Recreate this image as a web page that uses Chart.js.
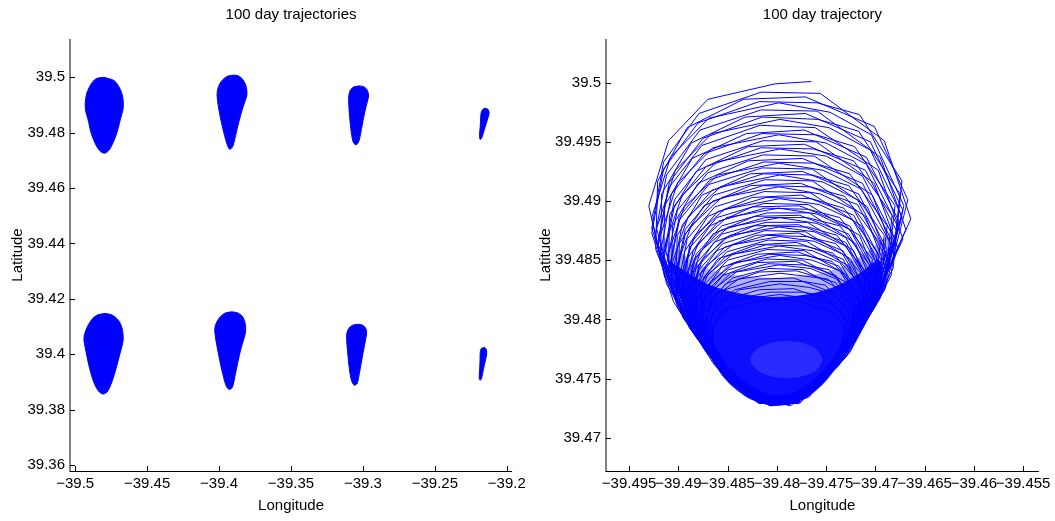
<!DOCTYPE html>
<html>
<head>
<meta charset="utf-8">
<script src="https://cdn.jsdelivr.net/npm/chart.js@4.4.0/dist/chart.umd.min.js"></script>
<style>
  html, body { margin: 0; padding: 0; background: #fff; }
  #wrap { position: relative; width: 1055px; height: 521px; overflow: hidden; }
  canvas { position: absolute; top: 0; }
</style>
</head>
<body>
<div id="wrap">
  <canvas id="leftChart" width="530" height="521" style="left:0"></canvas>
  <canvas id="rightChart" width="525" height="521" style="left:530px"></canvas>
</div>
<script>
// ============ Data ============
const leftTitle = '100 day trajectories';
const rightTitle = '100 day trajectory';

const leftLonTicks = [-39.5, -39.45, -39.4, -39.35, -39.3, -39.25, -39.2];
const leftLatTicks = [39.36, 39.38, 39.4, 39.42, 39.44, 39.46, 39.48, 39.5];
const rightLonTicks = [-39.495, -39.49, -39.485, -39.48, -39.475, -39.47, -39.465, -39.46, -39.455];
const rightLatTicks = [39.47, 39.475, 39.48, 39.485, 39.49, 39.495, 39.5];

// outline of each trajectory cluster in the left panel (lon, lat)
const blob1 = [[-39.4800,39.5000],[-39.4855,39.4995],[-39.4890,39.4975],[-39.4918,39.4945],[-39.4930,39.4910],[-39.4928,39.4880],[-39.4912,39.4850],[-39.4890,39.4800],[-39.4860,39.4760],[-39.4830,39.4735],[-39.4797,39.4726],[-39.4768,39.4735],[-39.4740,39.4760],[-39.4710,39.4800],[-39.4685,39.4850],[-39.4666,39.4890],[-39.4670,39.4930],[-39.4690,39.4960],[-39.4730,39.4988]];
const blob2 = [[-39.3900,39.5008],[-39.3945,39.5003],[-39.3985,39.4985],[-39.4008,39.4960],[-39.4014,39.4936],[-39.4005,39.4895],[-39.3985,39.4840],[-39.3962,39.4790],[-39.3940,39.4752],[-39.3925,39.4740],[-39.3905,39.4750],[-39.3885,39.4790],[-39.3862,39.4840],[-39.3835,39.4890],[-39.3812,39.4925],[-39.3806,39.4940],[-39.3812,39.4968],[-39.3835,39.4992],[-39.3865,39.5005]];
const blob3 = [[-39.3030,39.4969],[-39.3065,39.4965],[-39.3088,39.4953],[-39.3098,39.4935],[-39.3099,39.4910],[-39.3093,39.4860],[-39.3083,39.4810],[-39.3070,39.4770],[-39.3052,39.4756],[-39.3032,39.4764],[-39.3015,39.4800],[-39.2997,39.4850],[-39.2978,39.4895],[-39.2963,39.4925],[-39.2962,39.4940],[-39.2975,39.4958],[-39.3000,39.4967]];
const blob4 = [[-39.2150,39.4888],[-39.2165,39.4885],[-39.2178,39.4872],[-39.2182,39.4850],[-39.2185,39.4820],[-39.2190,39.4790],[-39.2186,39.4776],[-39.2175,39.4780],[-39.2160,39.4805],[-39.2145,39.4830],[-39.2130,39.4855],[-39.2123,39.4870],[-39.2130,39.4884]];
const blob5 = [[-39.4790,39.4147],[-39.4840,39.4143],[-39.4880,39.4128],[-39.4915,39.4100],[-39.4936,39.4070],[-39.4939,39.4050],[-39.4925,39.4010],[-39.4905,39.3960],[-39.4875,39.3905],[-39.4840,39.3868],[-39.4805,39.3856],[-39.4775,39.3866],[-39.4745,39.3900],[-39.4715,39.3950],[-39.4690,39.4000],[-39.4670,39.4040],[-39.4666,39.4060],[-39.4675,39.4095],[-39.4700,39.4123],[-39.4745,39.4142]];
const blob6 = [[-39.3915,39.4153],[-39.3960,39.4148],[-39.4000,39.4130],[-39.4025,39.4105],[-39.4030,39.4085],[-39.4020,39.4045],[-39.3998,39.3985],[-39.3975,39.3930],[-39.3950,39.3885],[-39.3930,39.3873],[-39.3908,39.3880],[-39.3890,39.3920],[-39.3870,39.3970],[-39.3848,39.4020],[-39.3825,39.4060],[-39.3815,39.4085],[-39.3820,39.4115],[-39.3840,39.4138],[-39.3875,39.4150]];
const blob7 = [[-39.3040,39.4108],[-39.3075,39.4104],[-39.3100,39.4092],[-39.3112,39.4075],[-39.3113,39.4050],[-39.3105,39.4000],[-39.3095,39.3950],[-39.3080,39.3905],[-39.3060,39.3888],[-39.3040,39.3895],[-39.3025,39.3930],[-39.3008,39.3980],[-39.2990,39.4030],[-39.2977,39.4065],[-39.2975,39.4085],[-39.2990,39.4100],[-39.3015,39.4107]];
const blob8 = [[-39.2163,39.4024],[-39.2178,39.4020],[-39.2185,39.4005],[-39.2186,39.3980],[-39.2188,39.3950],[-39.2192,39.3915],[-39.2186,39.3906],[-39.2176,39.3912],[-39.2165,39.3940],[-39.2150,39.3975],[-39.2140,39.4000],[-39.2142,39.4015],[-39.2150,39.4023]];

// single trajectory of the right panel, one row per loop (lon, lat)
const trajectoryUpper = [
  [-39.4765,39.5001],[-39.4802,39.4999],[-39.4870,39.4986],[-39.4910,39.4951],[-39.4930,39.4896],[-39.4914,39.4836],[-39.4874,39.4776],[-39.4830,39.4735],[-39.4786,39.4727],[-39.4746,39.4754],[-39.4704,39.4809],[-39.4664,39.4885],[-39.4691,39.4951],
  [-39.4756,39.4991],[-39.4816,39.4992],[-39.4879,39.4974],[-39.4915,39.4933],[-39.4927,39.4877],[-39.4904,39.4818],[-39.4862,39.4762],[-39.4818,39.4730],[-39.4776,39.4730],[-39.4734,39.4765],[-39.4690,39.4826],[-39.4667,39.4901],[-39.4701,39.4963],
  [-39.4771,39.4988],[-39.4834,39.4986],[-39.4891,39.4962],[-39.4921,39.4917],[-39.4923,39.4859],[-39.4895,39.4801],[-39.4852,39.4751],[-39.4807,39.4727],[-39.4768,39.4735],[-39.4725,39.4775],[-39.4682,39.4843],[-39.4673,39.4917],[-39.4716,39.4973],
  [-39.4759,39.4983],[-39.4818,39.4984],[-39.4880,39.4966],[-39.4915,39.4927],[-39.4927,39.4873],[-39.4905,39.4815],[-39.4863,39.4761],[-39.4820,39.4730],[-39.4778,39.4730],[-39.4737,39.4763],[-39.4694,39.4823],[-39.4671,39.4896],[-39.4704,39.4956],
  [-39.4746,39.4975],[-39.4798,39.4983],[-39.4869,39.4970],[-39.4908,39.4937],[-39.4927,39.4886],[-39.4912,39.4830],[-39.4873,39.4774],[-39.4830,39.4736],[-39.4788,39.4728],[-39.4749,39.4754],[-39.4708,39.4805],[-39.4669,39.4876],[-39.4695,39.4937],
  [-39.4759,39.4976],[-39.4816,39.4977],[-39.4878,39.4960],[-39.4912,39.4922],[-39.4924,39.4869],[-39.4902,39.4814],[-39.4861,39.4761],[-39.4819,39.4731],[-39.4778,39.4731],[-39.4737,39.4763],[-39.4695,39.4821],[-39.4672,39.4892],[-39.4705,39.4950],
  [-39.4771,39.4974],[-39.4832,39.4971],[-39.4887,39.4949],[-39.4917,39.4906],[-39.4918,39.4852],[-39.4891,39.4797],[-39.4849,39.4749],[-39.4806,39.4727],[-39.4768,39.4734],[-39.4726,39.4772],[-39.4684,39.4837],[-39.4675,39.4906],[-39.4717,39.4959],
  [-39.4758,39.4969],[-39.4815,39.4971],[-39.4875,39.4953],[-39.4909,39.4916],[-39.4921,39.4865],[-39.4899,39.4811],[-39.4859,39.4759],[-39.4817,39.4729],[-39.4777,39.4729],[-39.4737,39.4761],[-39.4695,39.4818],[-39.4673,39.4887],[-39.4705,39.4943],
  [-39.4747,39.4962],[-39.4797,39.4969],[-39.4866,39.4957],[-39.4903,39.4926],[-39.4922,39.4877],[-39.4907,39.4824],[-39.4870,39.4771],[-39.4828,39.4735],[-39.4787,39.4728],[-39.4749,39.4752],[-39.4709,39.4800],[-39.4672,39.4868],[-39.4697,39.4926],
  [-39.4761,39.4962],[-39.4817,39.4964],[-39.4876,39.4947],[-39.4910,39.4911],[-39.4921,39.4861],[-39.4900,39.4809],[-39.4860,39.4759],[-39.4819,39.4730],[-39.4779,39.4730],[-39.4740,39.4761],[-39.4699,39.4816],[-39.4676,39.4883],[-39.4709,39.4937],
  [-39.4772,39.4960],[-39.4831,39.4957],[-39.4886,39.4936],[-39.4914,39.4896],[-39.4915,39.4845],[-39.4889,39.4793],[-39.4849,39.4748],[-39.4807,39.4727],[-39.4770,39.4734],[-39.4729,39.4769],[-39.4689,39.4830],[-39.4680,39.4896],[-39.4721,39.4946],
  [-39.4760,39.4956],[-39.4815,39.4957],[-39.4874,39.4940],[-39.4907,39.4906],[-39.4918,39.4857],[-39.4897,39.4806],[-39.4858,39.4757],[-39.4818,39.4729],[-39.4779,39.4729],[-39.4740,39.4759],[-39.4699,39.4813],[-39.4677,39.4878],[-39.4709,39.4931],
  [-39.4750,39.4949],[-39.4798,39.4956],[-39.4865,39.4945],[-39.4901,39.4915],[-39.4919,39.4869],[-39.4904,39.4819],[-39.4868,39.4769],[-39.4828,39.4735],[-39.4788,39.4728],[-39.4752,39.4751],[-39.4713,39.4796],[-39.4677,39.4860],[-39.4701,39.4915],
  [-39.4760,39.4950],[-39.4814,39.4951],[-39.4872,39.4935],[-39.4904,39.4901],[-39.4915,39.4854],[-39.4894,39.4805],[-39.4856,39.4757],[-39.4816,39.4730],[-39.4778,39.4730],[-39.4740,39.4760],[-39.4700,39.4811],[-39.4678,39.4874],[-39.4710,39.4926],
  [-39.4772,39.4948],[-39.4829,39.4946],[-39.4882,39.4925],[-39.4909,39.4888],[-39.4910,39.4839],[-39.4885,39.4789],[-39.4846,39.4747],[-39.4806,39.4727],[-39.4770,39.4734],[-39.4731,39.4767],[-39.4691,39.4825],[-39.4683,39.4888],[-39.4722,39.4934],
  [-39.4763,39.4944],[-39.4816,39.4945],[-39.4872,39.4929],[-39.4904,39.4896],[-39.4915,39.4850],[-39.4895,39.4802],[-39.4857,39.4756],[-39.4818,39.4729],[-39.4780,39.4729],[-39.4743,39.4758],[-39.4704,39.4808],[-39.4682,39.4870],[-39.4713,39.4921],
  [-39.4750,39.4938],[-39.4797,39.4944],[-39.4861,39.4933],[-39.4896,39.4905],[-39.4914,39.4862],[-39.4900,39.4814],[-39.4865,39.4767],[-39.4826,39.4734],[-39.4788,39.4728],[-39.4753,39.4750],[-39.4715,39.4793],[-39.4680,39.4853],[-39.4703,39.4905],
  [-39.4762,39.4938],[-39.4814,39.4939],[-39.4870,39.4924],[-39.4901,39.4892],[-39.4912,39.4847],[-39.4892,39.4800],[-39.4855,39.4756],[-39.4817,39.4730],[-39.4780,39.4730],[-39.4742,39.4758],[-39.4704,39.4807],[-39.4683,39.4866],[-39.4713,39.4915],
  [-39.4774,39.4936],[-39.4829,39.4934],[-39.4880,39.4915],[-39.4906,39.4879],[-39.4907,39.4833],[-39.4883,39.4786],[-39.4845,39.4746],[-39.4806,39.4727],[-39.4772,39.4733],[-39.4734,39.4765],[-39.4696,39.4820],[-39.4688,39.4879],[-39.4726,39.4923],
  [-39.4762,39.4932],[-39.4813,39.4933],[-39.4868,39.4918],[-39.4899,39.4887],[-39.4909,39.4844],[-39.4889,39.4798],[-39.4853,39.4755],[-39.4815,39.4730],[-39.4779,39.4730],[-39.4742,39.4757],[-39.4705,39.4805],[-39.4684,39.4863],[-39.4714,39.4910],
  [-39.4753,39.4926],[-39.4798,39.4932],[-39.4860,39.4922],[-39.4894,39.4895],[-39.4911,39.4854],[-39.4897,39.4810],[-39.4864,39.4765],[-39.4826,39.4734],[-39.4789,39.4728],[-39.4755,39.4748],[-39.4719,39.4789],[-39.4685,39.4846],[-39.4708,39.4895],
  [-39.4764,39.4927],[-39.4815,39.4928],[-39.4869,39.4914],[-39.4899,39.4884],[-39.4909,39.4841],[-39.4890,39.4797],[-39.4854,39.4754],[-39.4817,39.4730],[-39.4781,39.4730],[-39.4745,39.4756],[-39.4708,39.4803],[-39.4688,39.4859],[-39.4717,39.4906]
];
const trajectoryMiddle = [
  [-39.4774,39.4925],[-39.4827,39.4923],[-39.4876,39.4905],[-39.4901,39.4871],[-39.4903,39.4828],[-39.4879,39.4784],[-39.4843,39.4746],[-39.4805,39.4728],[-39.4772,39.4734],[-39.4735,39.4764],[-39.4698,39.4816],[-39.4691,39.4871],[-39.4727,39.4913],
  [-39.4764,39.4922],[-39.4814,39.4923],[-39.4866,39.4909],[-39.4896,39.4880],[-39.4906,39.4838],[-39.4887,39.4795],[-39.4852,39.4754],[-39.4816,39.4730],[-39.4780,39.4730],[-39.4745,39.4756],[-39.4709,39.4801],[-39.4689,39.4856],[-39.4718,39.4901],
  [-39.4753,39.4916],[-39.4797,39.4922],[-39.4857,39.4912],[-39.4890,39.4887],[-39.4906,39.4848],[-39.4893,39.4806],[-39.4860,39.4763],[-39.4824,39.4734],[-39.4788,39.4728],[-39.4756,39.4747],[-39.4721,39.4786],[-39.4688,39.4841],[-39.4710,39.4887],
  [-39.4764,39.4917],[-39.4812,39.4918],[-39.4864,39.4905],[-39.4893,39.4876],[-39.4903,39.4836],[-39.4885,39.4793],[-39.4850,39.4753],[-39.4814,39.4730],[-39.4780,39.4730],[-39.4745,39.4755],[-39.4710,39.4799],[-39.4690,39.4853],[-39.4718,39.4897],
  [-39.4776,39.4915],[-39.4827,39.4913],[-39.4874,39.4896],[-39.4899,39.4864],[-39.4900,39.4823],[-39.4877,39.4781],[-39.4842,39.4745],[-39.4806,39.4728],[-39.4773,39.4734],[-39.4738,39.4762],[-39.4703,39.4811],[-39.4695,39.4864],[-39.4731,39.4904],
  [-39.4766,39.4912],[-39.4814,39.4913],[-39.4865,39.4900],[-39.4893,39.4872],[-39.4903,39.4833],[-39.4885,39.4792],[-39.4851,39.4752],[-39.4816,39.4730],[-39.4782,39.4730],[-39.4748,39.4754],[-39.4713,39.4797],[-39.4694,39.4850],[-39.4722,39.4893],
  [-39.4756,39.4906],[-39.4798,39.4912],[-39.4856,39.4903],[-39.4887,39.4879],[-39.4903,39.4842],[-39.4890,39.4802],[-39.4859,39.4761],[-39.4824,39.4734],[-39.4790,39.4728],[-39.4758,39.4746],[-39.4724,39.4783],[-39.4693,39.4835],[-39.4714,39.4879],
  [-39.4766,39.4907],[-39.4813,39.4908],[-39.4863,39.4895],[-39.4891,39.4868],[-39.4900,39.4830],[-39.4882,39.4790],[-39.4849,39.4752],[-39.4815,39.4730],[-39.4781,39.4730],[-39.4748,39.4753],[-39.4714,39.4795],[-39.4695,39.4846],[-39.4722,39.4888],
  [-39.4775,39.4905],[-39.4825,39.4903],[-39.4870,39.4887],[-39.4894,39.4857],[-39.4895,39.4818],[-39.4873,39.4778],[-39.4839,39.4744],[-39.4804,39.4728],[-39.4773,39.4733],[-39.4739,39.4760],[-39.4705,39.4807],[-39.4698,39.4857],[-39.4732,39.4894],
  [-39.4765,39.4902],[-39.4811,39.4903],[-39.4860,39.4891],[-39.4888,39.4864],[-39.4897,39.4827],[-39.4880,39.4788],[-39.4847,39.4751],[-39.4813,39.4730],[-39.4781,39.4730],[-39.4748,39.4753],[-39.4714,39.4793],[-39.4696,39.4843],[-39.4723,39.4884],
  [-39.4757,39.4897],[-39.4797,39.4902],[-39.4853,39.4893],[-39.4883,39.4871],[-39.4898,39.4836],[-39.4886,39.4798],[-39.4856,39.4759],[-39.4822,39.4733],[-39.4789,39.4728],[-39.4759,39.4745],[-39.4726,39.4780],[-39.4696,39.4829],[-39.4716,39.4871],
  [-39.4768,39.4897],[-39.4813,39.4898],[-39.4861,39.4886],[-39.4888,39.4861],[-39.4897,39.4825],[-39.4880,39.4787],[-39.4848,39.4751],[-39.4815,39.4731],[-39.4783,39.4731],[-39.4751,39.4753],[-39.4718,39.4792],[-39.4700,39.4840],[-39.4726,39.4879],
  [-39.4777,39.4896],[-39.4825,39.4895],[-39.4868,39.4879],[-39.4891,39.4851],[-39.4892,39.4814],[-39.4871,39.4776],[-39.4839,39.4744],[-39.4805,39.4729],[-39.4775,39.4734],[-39.4743,39.4759],[-39.4710,39.4803],[-39.4703,39.4851],[-39.4736,39.4886],
  [-39.4768,39.4893],[-39.4812,39.4894],[-39.4859,39.4883],[-39.4885,39.4858],[-39.4894,39.4823],[-39.4877,39.4786],[-39.4846,39.4751],[-39.4814,39.4731],[-39.4782,39.4731],[-39.4751,39.4752],[-39.4719,39.4791],[-39.4701,39.4838],[-39.4726,39.4876],
  [-39.4759,39.4889],[-39.4798,39.4894],[-39.4851,39.4886],[-39.4880,39.4864],[-39.4895,39.4831],[-39.4883,39.4795],[-39.4854,39.4759],[-39.4822,39.4734],[-39.4790,39.4729],[-39.4761,39.4746],[-39.4730,39.4779],[-39.4701,39.4825],[-39.4720,39.4864],
  [-39.4767,39.4890],[-39.4810,39.4890],[-39.4856,39.4879],[-39.4882,39.4855],[-39.4891,39.4820],[-39.4875,39.4784],[-39.4844,39.4750],[-39.4812,39.4731],[-39.4782,39.4731],[-39.4751,39.4752],[-39.4719,39.4789],[-39.4702,39.4835],[-39.4727,39.4872],
  [-39.4777,39.4888],[-39.4823,39.4887],[-39.4865,39.4872],[-39.4887,39.4845],[-39.4888,39.4810],[-39.4868,39.4774],[-39.4836,39.4743],[-39.4804,39.4729],[-39.4775,39.4734],[-39.4743,39.4758],[-39.4712,39.4800],[-39.4705,39.4845],[-39.4736,39.4879],
  [-39.4769,39.4886],[-39.4812,39.4886],[-39.4858,39.4875],[-39.4884,39.4851],[-39.4892,39.4818],[-39.4876,39.4783],[-39.4846,39.4750],[-39.4814,39.4731],[-39.4784,39.4731],[-39.4753,39.4751],[-39.4722,39.4788],[-39.4705,39.4832],[-39.4730,39.4869],
  [-39.4759,39.4881],[-39.4797,39.4886],[-39.4849,39.4878],[-39.4877,39.4858],[-39.4891,39.4826],[-39.4880,39.4792],[-39.4852,39.4757],[-39.4821,39.4734],[-39.4789,39.4729],[-39.4761,39.4745],[-39.4731,39.4776],[-39.4703,39.4820],[-39.4722,39.4858],
  [-39.4769,39.4882],[-39.4811,39.4882],[-39.4856,39.4872],[-39.4881,39.4848],[-39.4889,39.4816],[-39.4873,39.4782],[-39.4844,39.4749],[-39.4813,39.4731],[-39.4783,39.4731],[-39.4753,39.4751],[-39.4723,39.4786],[-39.4706,39.4830],[-39.4730,39.4865],
  [-39.4778,39.4880],[-39.4823,39.4879],[-39.4864,39.4865],[-39.4885,39.4839],[-39.4886,39.4806],[-39.4867,39.4772],[-39.4836,39.4743],[-39.4804,39.4729],[-39.4777,39.4734],[-39.4746,39.4757],[-39.4715,39.4796],[-39.4709,39.4839],[-39.4739,39.4871],
  [-39.4768,39.4878],[-39.4810,39.4879],[-39.4854,39.4868],[-39.4879,39.4846],[-39.4887,39.4814],[-39.4871,39.4781],[-39.4842,39.4750],[-39.4812,39.4732],[-39.4782,39.4732],[-39.4753,39.4751],[-39.4722,39.4786],[-39.4706,39.4828],[-39.4730,39.4862]
];
const trajectoryLower = [
  [-39.4762,39.4874],[-39.4798,39.4878],[-39.4848,39.4871],[-39.4875,39.4851],[-39.4889,39.4822],[-39.4878,39.4789],[-39.4851,39.4757],[-39.4821,39.4734],[-39.4791,39.4730],[-39.4763,39.4745],[-39.4734,39.4774],[-39.4707,39.4816],[-39.4725,39.4851],
  [-39.4771,39.4874],[-39.4812,39.4875],[-39.4855,39.4864],[-39.4879,39.4842],[-39.4887,39.4812],[-39.4872,39.4780],[-39.4843,39.4749],[-39.4813,39.4731],[-39.4784,39.4731],[-39.4756,39.4750],[-39.4726,39.4784],[-39.4710,39.4825],[-39.4733,39.4858],
  [-39.4778,39.4873],[-39.4821,39.4871],[-39.4861,39.4858],[-39.4882,39.4834],[-39.4882,39.4802],[-39.4864,39.4770],[-39.4834,39.4743],[-39.4803,39.4730],[-39.4776,39.4734],[-39.4746,39.4756],[-39.4717,39.4793],[-39.4710,39.4834],[-39.4740,39.4864],
  [-39.4770,39.4870],[-39.4810,39.4871],[-39.4853,39.4861],[-39.4877,39.4839],[-39.4885,39.4810],[-39.4870,39.4778],[-39.4842,39.4748],[-39.4812,39.4731],[-39.4784,39.4731],[-39.4755,39.4750],[-39.4726,39.4783],[-39.4710,39.4822],[-39.4733,39.4855],
  [-39.4762,39.4866],[-39.4797,39.4870],[-39.4845,39.4863],[-39.4872,39.4845],[-39.4885,39.4817],[-39.4874,39.4786],[-39.4848,39.4755],[-39.4819,39.4734],[-39.4790,39.4730],[-39.4764,39.4744],[-39.4735,39.4772],[-39.4709,39.4811],[-39.4727,39.4845],
  [-39.4770,39.4866],[-39.4809,39.4867],[-39.4851,39.4857],[-39.4874,39.4836],[-39.4882,39.4807],[-39.4867,39.4777],[-39.4840,39.4748],[-39.4811,39.4731],[-39.4783,39.4731],[-39.4755,39.4749],[-39.4726,39.4781],[-39.4711,39.4820],[-39.4733,39.4851],
  [-39.4780,39.4865],[-39.4821,39.4863],[-39.4860,39.4851],[-39.4880,39.4828],[-39.4881,39.4798],[-39.4862,39.4768],[-39.4834,39.4742],[-39.4804,39.4730],[-39.4778,39.4734],[-39.4749,39.4754],[-39.4720,39.4790],[-39.4714,39.4828],[-39.4743,39.4856],
  [-39.4772,39.4862],[-39.4811,39.4863],[-39.4852,39.4853],[-39.4875,39.4833],[-39.4883,39.4805],[-39.4869,39.4776],[-39.4841,39.4747],[-39.4813,39.4731],[-39.4785,39.4731],[-39.4758,39.4749],[-39.4729,39.4780],[-39.4714,39.4817],[-39.4736,39.4848],
  [-39.4764,39.4858],[-39.4798,39.4862],[-39.4845,39.4855],[-39.4870,39.4838],[-39.4883,39.4812],[-39.4873,39.4783],[-39.4847,39.4755],[-39.4819,39.4735],[-39.4791,39.4731],[-39.4766,39.4744],[-39.4738,39.4770],[-39.4713,39.4807],[-39.4730,39.4838],
  [-39.4772,39.4858],[-39.4810,39.4859],[-39.4850,39.4850],[-39.4873,39.4830],[-39.4880,39.4803],[-39.4866,39.4775],[-39.4839,39.4748],[-39.4811,39.4732],[-39.4784,39.4732],[-39.4758,39.4749],[-39.4730,39.4779],[-39.4715,39.4815],[-39.4737,39.4845],
  [-39.4779,39.4857],[-39.4820,39.4855],[-39.4856,39.4844],[-39.4876,39.4822],[-39.4877,39.4795],[-39.4859,39.4767],[-39.4831,39.4742],[-39.4803,39.4731],[-39.4778,39.4735],[-39.4750,39.4754],[-39.4722,39.4787],[-39.4716,39.4822],[-39.4744,39.4849],
  [-39.4771,39.4854],[-39.4808,39.4855],[-39.4848,39.4846],[-39.4871,39.4827],[-39.4878,39.4801],[-39.4864,39.4774],[-39.4838,39.4747],[-39.4810,39.4732],[-39.4784,39.4732],[-39.4757,39.4749],[-39.4730,39.4777],[-39.4715,39.4812],[-39.4736,39.4841],
  [-39.4764,39.4850],[-39.4797,39.4854],[-39.4842,39.4848],[-39.4867,39.4832],[-39.4879,39.4807],[-39.4869,39.4780],[-39.4845,39.4753],[-39.4818,39.4735],[-39.4790,39.4731],[-39.4766,39.4743],[-39.4740,39.4768],[-39.4715,39.4802],[-39.4731,39.4832],
  [-39.4774,39.4850],[-39.4810,39.4851],[-39.4849,39.4842],[-39.4871,39.4824],[-39.4878,39.4799],[-39.4864,39.4772],[-39.4839,39.4747],[-39.4812,39.4732],[-39.4786,39.4732],[-39.4760,39.4748],[-39.4733,39.4776],[-39.4719,39.4810],[-39.4740,39.4837],
  [-39.4781,39.4849],[-39.4820,39.4848],[-39.4855,39.4837],[-39.4874,39.4817],[-39.4875,39.4791],[-39.4858,39.4764],[-39.4831,39.4742],[-39.4803,39.4731],[-39.4779,39.4735],[-39.4752,39.4752],[-39.4726,39.4783],[-39.4720,39.4817],[-39.4747,39.4842],
  [-39.4773,39.4846],[-39.4809,39.4847],[-39.4847,39.4839],[-39.4869,39.4821],[-39.4876,39.4797],[-39.4863,39.4771],[-39.4837,39.4746],[-39.4811,39.4732],[-39.4785,39.4732],[-39.4759,39.4747],[-39.4733,39.4774],[-39.4719,39.4807],[-39.4739,39.4834],
  [-39.4766,39.4843],[-39.4798,39.4846],[-39.4841,39.4840],[-39.4865,39.4825],[-39.4877,39.4803],[-39.4868,39.4778],[-39.4844,39.4753],[-39.4818,39.4735],[-39.4792,39.4732],[-39.4768,39.4743],[-39.4743,39.4766],[-39.4719,39.4798],[-39.4735,39.4825],
  [-39.4773,39.4842],[-39.4808,39.4843],[-39.4845,39.4835],[-39.4866,39.4818],[-39.4873,39.4795],[-39.4860,39.4770],[-39.4835,39.4747],[-39.4809,39.4733],[-39.4784,39.4733],[-39.4759,39.4748],[-39.4734,39.4773],[-39.4720,39.4805],[-39.4740,39.4831],
  [-39.4780,39.4841],[-39.4818,39.4840],[-39.4852,39.4830],[-39.4870,39.4811],[-39.4871,39.4787],[-39.4855,39.4763],[-39.4829,39.4742],[-39.4802,39.4732],[-39.4779,39.4735],[-39.4753,39.4752],[-39.4727,39.4780],[-39.4722,39.4811],[-39.4748,39.4834],
  [-39.4766,39.4836],[-39.4797,39.4839],[-39.4839,39.4834],[-39.4862,39.4820],[-39.4874,39.4798],[-39.4865,39.4775],[-39.4842,39.4751],[-39.4816,39.4735],[-39.4791,39.4732],[-39.4768,39.4743],[-39.4743,39.4764],[-39.4720,39.4794],[-39.4735,39.4820],
  [-39.4783,39.4835],[-39.4819,39.4834],[-39.4853,39.4825],[-39.4870,39.4807],[-39.4871,39.4785],[-39.4855,39.4762],[-39.4830,39.4742],[-39.4804,39.4733],[-39.4781,39.4736],[-39.4756,39.4752],[-39.4731,39.4778],[-39.4726,39.4807],[-39.4751,39.4829],
  [-39.4773,39.4832],[-39.4807,39.4832],[-39.4843,39.4825],[-39.4864,39.4810],[-39.4870,39.4789],[-39.4858,39.4767],[-39.4834,39.4746],[-39.4809,39.4734],[-39.4785,39.4734],[-39.4761,39.4747],[-39.4736,39.4770],[-39.4722,39.4798],[-39.4742,39.4821],
  [-39.4767,39.4827],[-39.4797,39.4830],[-39.4838,39.4825],[-39.4860,39.4813],[-39.4871,39.4793],[-39.4862,39.4772],[-39.4840,39.4750],[-39.4816,39.4736],[-39.4791,39.4733],[-39.4769,39.4743],[-39.4745,39.4762],[-39.4723,39.4789],[-39.4738,39.4813],
  [-39.4783,39.4826],[-39.4818,39.4825],[-39.4851,39.4817],[-39.4867,39.4801],[-39.4868,39.4781],[-39.4853,39.4760],[-39.4829,39.4742],[-39.4804,39.4734],[-39.4782,39.4737],[-39.4758,39.4751],[-39.4734,39.4775],[-39.4729,39.4801],[-39.4753,39.4820],
  [-39.4774,39.4823],[-39.4807,39.4823],[-39.4841,39.4817],[-39.4861,39.4803],[-39.4867,39.4784],[-39.4855,39.4765],[-39.4832,39.4746],[-39.4808,39.4735],[-39.4785,39.4735],[-39.4762,39.4747],[-39.4738,39.4767],[-39.4725,39.4793],[-39.4744,39.4813],
  [-39.4769,39.4818],[-39.4797,39.4821],[-39.4836,39.4817],[-39.4857,39.4805],[-39.4868,39.4788],[-39.4859,39.4769],[-39.4838,39.4750],[-39.4815,39.4737],[-39.4791,39.4734],[-39.4770,39.4743],[-39.4747,39.4760],[-39.4726,39.4784],[-39.4740,39.4805],
  [-39.4784,39.4817],[-39.4818,39.4816],[-39.4848,39.4809],[-39.4865,39.4795],[-39.4865,39.4777],[-39.4851,39.4758],[-39.4827,39.4742],[-39.4804,39.4735],[-39.4783,39.4737],[-39.4759,39.4750],[-39.4736,39.4772],[-39.4731,39.4795],[-39.4755,39.4812]
];

// band where the loops crowd together, and the nearly solid core below it
const denseBand = [[-39.4916,39.4870],[-39.4895,39.4855],[-39.4870,39.4843],[-39.4838,39.4837],[-39.4805,39.4835],[-39.4770,39.4837],[-39.4738,39.4843],[-39.4712,39.4855],[-39.4686,39.4870],[-39.4688,39.4850],[-39.4694,39.4825],[-39.4710,39.4800],[-39.4728,39.4775],[-39.4748,39.4750],[-39.4768,39.4735],[-39.4790,39.4728],[-39.4805,39.4727],[-39.4830,39.4734],[-39.4853,39.4750],[-39.4872,39.4775],[-39.4890,39.4800],[-39.4900,39.4825],[-39.4910,39.4850]];
const denseCore = [[-39.4910,39.4850],[-39.4892,39.4840],[-39.4868,39.4829],[-39.4838,39.4822],[-39.4805,39.4819],[-39.4770,39.4821],[-39.4740,39.4828],[-39.4716,39.4839],[-39.4696,39.4850],[-39.4694,39.4825],[-39.4710,39.4800],[-39.4728,39.4775],[-39.4748,39.4750],[-39.4768,39.4735],[-39.4790,39.4728],[-39.4805,39.4727],[-39.4830,39.4734],[-39.4853,39.4750],[-39.4872,39.4775],[-39.4890,39.4800],[-39.4900,39.4825]];
// paler patch inside the core
const innerEllipse = [[-39.4753,39.4766],[-39.4760,39.4775],[-39.4779,39.4781],[-39.4801,39.4781],[-39.4820,39.4775],[-39.4827,39.4766],[-39.4820,39.4757],[-39.4801,39.4751],[-39.4779,39.4751],[-39.4760,39.4757]];

// ============ Configuration ============
const CONFIG = {
    font: { family: '"Liberation Sans", Arial, sans-serif', size: 15, weight: 'normal' },
    lineColor: '#0000ff',
    textColor: '#000000',
    yAxisColor: '#808080',
    tickLen: 5,
    left: {
        xMin: -39.50361, xMax: -39.19632,
        yMin: 39.35783, yMax: 39.51383,
        axisWidth: 70, padRight: 17, yTitlePad: 8.8
    },
    right: {
        xMin: -39.497345, xMax: -39.45339,
        yMin: 39.467186, yMax: 39.503693,
        axisWidth: 76, padRight: 12.3, yTitlePad: 6.8
    }
};

// ============ Utilities ============
const toPoints = (pairs, close) => {
    const pts = pairs.map(([x, y]) => ({ x, y }));
    if (close) pts.push({ ...pts[0] });
    return pts;
};

const formatTick = (v) => (v < 0 ? '\u2212' : '') + Math.abs(v);

// MATLAB-like axes: grey y spine, black x spine, ticks pointing inward
const matlabAxes = {
    id: 'matlabAxes',
    afterDraw(chart) {
        const { ctx, chartArea: a, scales } = chart;
        ctx.save();
        ctx.strokeStyle = CONFIG.yAxisColor;
        ctx.lineWidth = 2;
        ctx.beginPath();
        ctx.moveTo(a.left, a.top);
        ctx.lineTo(a.left, a.bottom + 1);
        ctx.stroke();

        ctx.strokeStyle = '#000';
        ctx.lineWidth = 1;
        ctx.beginPath();
        ctx.moveTo(a.left, Math.round(a.bottom) + 0.5);
        ctx.lineTo(a.right, Math.round(a.bottom) + 0.5);
        scales.x.ticks.forEach(t => {
            const px = Math.round(scales.x.getPixelForValue(t.value)) + 0.5;
            ctx.moveTo(px, a.bottom);
            ctx.lineTo(px, a.bottom - CONFIG.tickLen);
        });
        scales.y.ticks.forEach(t => {
            const py = Math.round(scales.y.getPixelForValue(t.value)) + 0.5;
            ctx.moveTo(a.left, py);
            ctx.lineTo(a.left + CONFIG.tickLen, py);
        });
        ctx.stroke();
        ctx.restore();
    }
};

// ============ Chart Options ============
function getChartOptions(panel, title, lonTicks, latTicks) {
    const p = CONFIG[panel];
    const font = CONFIG.font;
    return {
        responsive: false,
        animation: false,
        devicePixelRatio: 1,
        events: [],
        layout: { padding: { left: 0, right: p.padRight, top: 0, bottom: 0 } },
        plugins: {
            legend: { display: false },
            tooltip: { enabled: false },
            title: {
                display: true,
                text: title,
                fullSize: false,
                color: CONFIG.textColor,
                font,
                padding: { top: 6.3, bottom: 14.7 }
            }
        },
        scales: {
            x: {
                type: 'linear',
                min: p.xMin,
                max: p.xMax,
                afterBuildTicks: (s) => { s.ticks = lonTicks.map(v => ({ value: v })); },
                afterFit: (s) => { s.height = 50; },
                grid: { display: false, drawTicks: false },
                border: { display: false },
                ticks: {
                    autoSkip: false, maxRotation: 0, minRotation: 0, padding: 4,
                    color: CONFIG.textColor, font, callback: (v) => formatTick(v)
                },
                title: { display: true, text: 'Longitude', color: CONFIG.textColor, font, padding: { top: 0, bottom: 6.5 } }
            },
            y: {
                type: 'linear',
                min: p.yMin,
                max: p.yMax,
                afterBuildTicks: (s) => { s.ticks = latTicks.map(v => ({ value: v })); },
                afterFit: (s) => { s.width = p.axisWidth; },
                grid: { display: false, drawTicks: false },
                border: { display: false },
                ticks: {
                    autoSkip: false, padding: 5,
                    color: CONFIG.textColor, font, callback: (v) => formatTick(v)
                },
                title: { display: true, text: 'Latitude', color: CONFIG.textColor, font, padding: { top: p.yTitlePad, bottom: 0 } }
            }
        }
    };
}

// ============ Datasets ============
const blobDataset = (blob) => ({
    data: toPoints(blob, true),
    showLine: true,
    fill: 'shape',
    backgroundColor: CONFIG.lineColor,
    borderColor: CONFIG.lineColor,
    borderWidth: 1,
    pointRadius: 0,
    tension: 0.3
});

const leftDatasets = [blob1, blob2, blob3, blob4, blob5, blob6, blob7, blob8].map(blobDataset);

const fillDataset = (pairs, color, order) => ({
    data: toPoints(pairs, true),
    showLine: true, fill: 'shape',
    backgroundColor: color,
    borderColor: 'transparent', borderWidth: 0,
    pointRadius: 0, tension: 0.3, order
});

const rightDatasets = [
    fillDataset(denseBand, 'rgba(0, 0, 255, 0.3)', 4),
    fillDataset(denseCore, 'rgba(0, 0, 255, 0.93)', 3),
    {
        data: toPoints([...trajectoryUpper, ...trajectoryMiddle, ...trajectoryLower], false),
        showLine: true, fill: false,
        borderColor: CONFIG.lineColor, borderWidth: 1,
        pointRadius: 0, tension: 0, order: 2
    },
    fillDataset(innerEllipse, 'rgba(255, 255, 255, 0.12)', 1)
];

// ============ Render ============
new Chart(document.getElementById('leftChart'), {
    type: 'scatter',
    data: { datasets: leftDatasets },
    options: getChartOptions('left', leftTitle, leftLonTicks, leftLatTicks),
    plugins: [matlabAxes]
});

new Chart(document.getElementById('rightChart'), {
    type: 'scatter',
    data: { datasets: rightDatasets },
    options: getChartOptions('right', rightTitle, rightLonTicks, rightLatTicks),
    plugins: [matlabAxes]
});
</script>
</body>
</html>
